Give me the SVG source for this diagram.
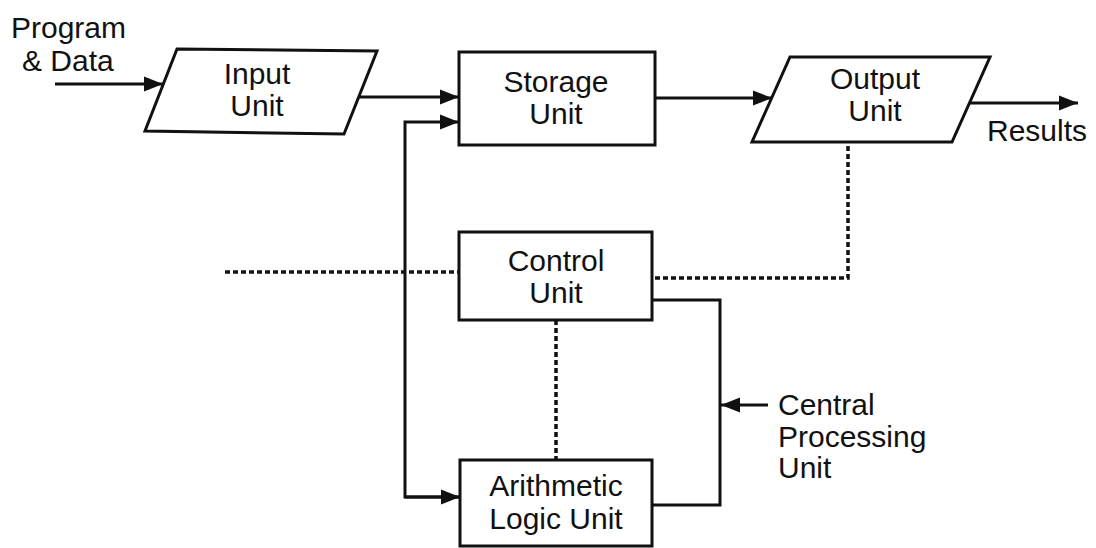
<svg xmlns="http://www.w3.org/2000/svg" width="1096" height="548" viewBox="0 0 1096 548">
<style>
.box{fill:#fff;stroke:#111;stroke-width:3}
.ln{fill:none;stroke:#111;stroke-width:3}
.dot{fill:none;stroke:#111;stroke-width:3.5;stroke-dasharray:5 3}
text{font-family:"Liberation Sans",Arial,sans-serif;font-size:30px;fill:#111}
.c{text-anchor:middle}
</style>
<defs>
<marker id="ah" markerUnits="userSpaceOnUse" markerWidth="20" markerHeight="18" refX="19" refY="9" orient="auto">
<path d="M0,1.5 L19,9 L0,16.5 z" fill="#111"/>
</marker>
</defs>
<rect width="1096" height="548" fill="#fff"/>
<g id="connectors">
<line class="ln" x1="55" y1="84" x2="163" y2="84" marker-end="url(#ah)"/>
<line class="ln" x1="359" y1="97" x2="459" y2="97" marker-end="url(#ah)"/>
<line class="ln" x1="655" y1="98" x2="772" y2="98" marker-end="url(#ah)"/>
<line class="ln" x1="969" y1="103" x2="1078" y2="103" marker-end="url(#ah)"/>
<polyline class="ln" points="460,497 405,497 405,122 459,122" marker-end="url(#ah)"/>
<line class="ln" x1="405" y1="497" x2="460" y2="497" marker-end="url(#ah)"/>
<polyline class="ln" points="652,300 720,300 720,505 652,505"/>
<line class="ln" x1="768" y1="405" x2="721" y2="405" marker-end="url(#ah)"/>
<polyline class="dot" points="848,146 848,278 652,278"/>
<line class="dot" x1="225" y1="272" x2="459" y2="272"/>
<line class="dot" x1="556" y1="320" x2="556" y2="460"/>
</g>
<g id="program-data">
<text x="11" y="38">Program</text>
<text x="22" y="71">&amp; Data</text>
</g>
<g id="input-unit">
<polygon class="box" points="177,49 377,51 344,134 145,131"/>
<text class="c" x="257" y="84">Input</text>
<text class="c" x="257" y="116">Unit</text>
</g>
<g id="storage-unit">
<rect class="box" x="459" y="52" width="196" height="93"/>
<text class="c" x="556" y="92">Storage</text>
<text class="c" x="556" y="124">Unit</text>
</g>
<g id="output-unit">
<polygon class="box" points="790,57 990,57 952,142 752,142"/>
<text class="c" x="875" y="89">Output</text>
<text class="c" x="875" y="121">Unit</text>
</g>
<g id="results">
<text x="987" y="141">Results</text>
</g>
<g id="control-unit">
<rect class="box" x="459" y="232" width="193" height="88"/>
<text class="c" x="556" y="271">Control</text>
<text class="c" x="556" y="303">Unit</text>
</g>
<g id="alu">
<rect class="box" x="460" y="460" width="192" height="86"/>
<text class="c" x="556" y="496">Arithmetic</text>
<text class="c" x="556" y="529">Logic Unit</text>
</g>
<g id="cpu-label">
<text x="778" y="415">Central</text>
<text x="778" y="447">Processing</text>
<text x="778" y="478">Unit</text>
</g>
</svg>
